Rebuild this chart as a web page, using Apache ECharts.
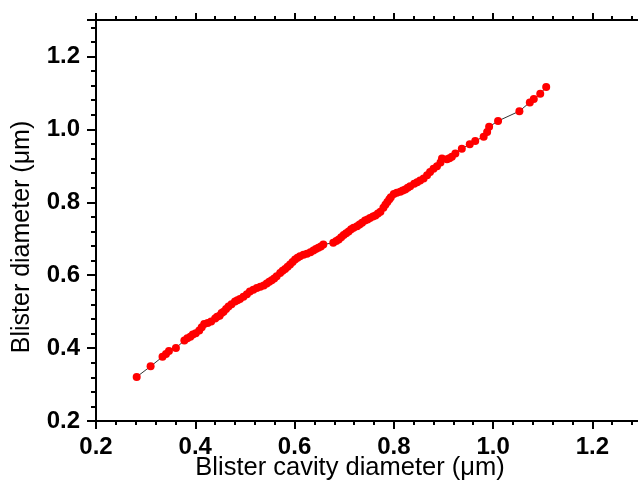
<!DOCTYPE html>
<html lang="en">
<head>
  <meta charset="UTF-8">
  <title>blister</title>
  <script src="https://cdn.jsdelivr.net/npm/echarts@6/dist/echarts.min.js"></script>
  <style>
    html, body { margin: 0; padding: 0; background: #fff; }
    #main { width: 638px; height: 484px; }
  </style>
</head>
<body>
<div id="main"></div>
<script>
  // cavity diameter (um) vs blister diameter (um)
  var cavityD = [
    0.282, 0.310, 0.334, 0.341, 0.347, 0.361, 0.378, 0.384, 0.390, 0.395,
    0.401, 0.408, 0.413, 0.418, 0.425, 0.432, 0.440, 0.444, 0.449, 0.453,
    0.457, 0.462, 0.467, 0.473, 0.480, 0.485, 0.490, 0.497, 0.504, 0.510,
    0.517, 0.524, 0.531, 0.538, 0.544, 0.549, 0.554, 0.559, 0.564, 0.571,
    0.576, 0.581, 0.586, 0.591, 0.596, 0.601, 0.606, 0.611, 0.618, 0.625,
    0.632, 0.638, 0.643, 0.648, 0.653, 0.658, 0.678, 0.684, 0.689, 0.694,
    0.699, 0.704, 0.709, 0.714, 0.719, 0.726, 0.731, 0.736, 0.742, 0.747,
    0.752, 0.758, 0.763, 0.768, 0.773, 0.779, 0.783, 0.787, 0.791, 0.794,
    0.800, 0.806, 0.813, 0.818, 0.823, 0.828, 0.833, 0.841, 0.847, 0.853,
    0.860, 0.867, 0.873, 0.880, 0.887, 0.894, 0.897, 0.907, 0.912, 0.917,
    0.924, 0.937, 0.953, 0.964, 0.981, 0.988, 0.992, 1.010, 1.053, 1.074,
    1.082, 1.095, 1.107
  ];
  var blisterD = [
    0.321, 0.350, 0.376, 0.384, 0.392, 0.400, 0.421, 0.427, 0.431, 0.437,
    0.441, 0.448, 0.457, 0.466, 0.469, 0.473, 0.481, 0.486, 0.489, 0.496,
    0.500, 0.507, 0.514, 0.520, 0.528, 0.531, 0.535, 0.541, 0.548, 0.555,
    0.560, 0.565, 0.568, 0.572, 0.577, 0.582, 0.586, 0.591, 0.597, 0.606,
    0.612, 0.617, 0.623, 0.629, 0.636, 0.643, 0.648, 0.652, 0.656, 0.659,
    0.663, 0.668, 0.672, 0.675, 0.679, 0.684, 0.689, 0.694, 0.698, 0.704,
    0.710, 0.715, 0.720, 0.726, 0.730, 0.734, 0.739, 0.744, 0.750, 0.753,
    0.757, 0.761, 0.764, 0.769, 0.774, 0.785, 0.793, 0.801, 0.808, 0.814,
    0.823, 0.826, 0.829, 0.832, 0.835, 0.840, 0.844, 0.851, 0.855, 0.860,
    0.865, 0.874, 0.883, 0.892, 0.899, 0.909, 0.920, 0.918, 0.921, 0.925,
    0.934, 0.947, 0.959, 0.968, 0.980, 0.993, 1.007, 1.023, 1.050, 1.074,
    1.083, 1.098, 1.116
  ];
  var xTitle = 'Blister cavity diameter (\u03bcm)';
  var yTitle = 'Blister diameter (\u03bcm)';

  var points = cavityD.map(function (v, i) { return [v, blisterD[i]]; });

  var chart = echarts.init(document.getElementById('main'));

  var font = 'Liberation Sans, Arial, sans-serif';
  var tickLabel = {
    fontFamily: font,
    fontWeight: 'bold',
    fontSize: 24,
    color: '#000',
    showMaxLabel: false,
    formatter: function (v) { return v.toFixed(1); }
  };
  var lineStyle = {color: '#000', width: 2};
  var tickStyle = {color: '#000', width: 2};

  chart.setOption({
    backgroundColor: '#fff',
    animation: false,
    grid: {left: 96, top: 20, right: -4, bottom: 63, outerBoundsMode: 'none'},
    xAxis: [
      {
        type: 'value',
        min: 0.2,
        max: 1.3,
        interval: 0.2,
        name: xTitle,
        nameLocation: 'middle',
        nameGap: 34,
        nameMoveOverlap: false,
        nameTextStyle: {
          fontFamily: font,
          fontSize: 25.5,
          color: '#000',
          padding: [0, 38, 0, 0]
        },
        axisLine: {onZero: false, lineStyle: lineStyle},
        axisTick: {length: 8, lineStyle: tickStyle},
        minorTick: {show: true, splitNumber: 5, length: 4, lineStyle: tickStyle},
        axisLabel: Object.assign({margin: 14}, tickLabel),
        splitLine: {show: false}
      },
      {
        type: 'value',
        position: 'top',
        min: 0.2,
        max: 1.3,
        interval: 0.2,
        axisLine: {onZero: false, lineStyle: lineStyle},
        axisTick: {length: 7, lineStyle: tickStyle},
        minorTick: {show: true, splitNumber: 5, length: 4, lineStyle: tickStyle},
        axisLabel: {show: false},
        splitLine: {show: false}
      }
    ],
    yAxis: {
      type: 'value',
      min: 0.2,
      max: 1.3,
      interval: 0.2,
      name: yTitle,
      nameLocation: 'middle',
      nameGap: 61,
      nameMoveOverlap: false,
      nameTextStyle: {
        fontFamily: font,
        fontSize: 25,
        color: '#000',
        padding: [0, 33, 0, 0]
      },
      axisLine: {onZero: false, lineStyle: lineStyle},
      axisTick: {length: 9, lineStyle: tickStyle},
      minorTick: {show: true, splitNumber: 5, length: 5, lineStyle: tickStyle},
      axisLabel: Object.assign({margin: 16}, tickLabel),
      splitLine: {show: false}
    },
    series: [
      {
        type: 'line',
        xAxisIndex: 0,
        data: points,
        symbol: 'circle',
        symbolSize: 8,
        itemStyle: {color: '#ff0000'},
        lineStyle: {color: '#333', width: 1}
      }
    ]
  });
</script>
</body>
</html>
